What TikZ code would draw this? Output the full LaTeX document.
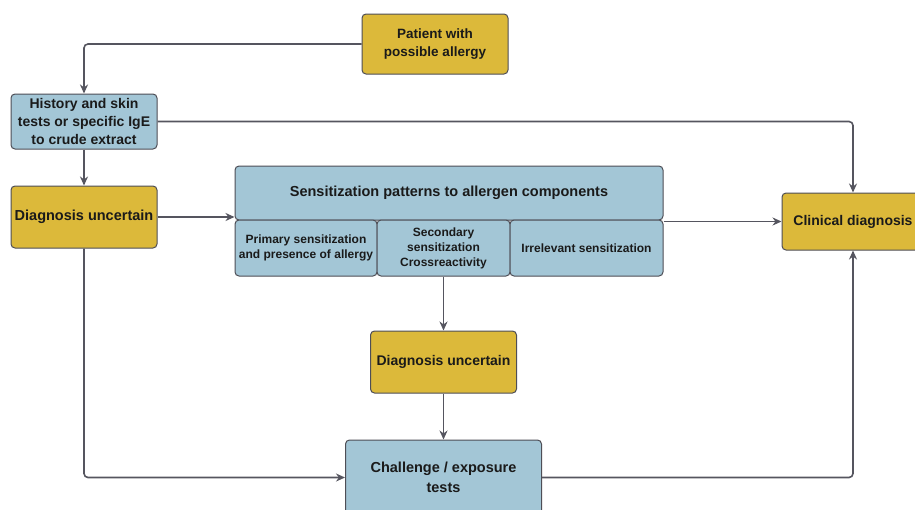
\documentclass[tikz,border=0pt]{standalone}
\usepackage{fontspec}
\setmainfont{Liberation Sans}
\usetikzlibrary{arrows.meta}
\definecolor{boxyellow}{HTML}{DCB93A}
\definecolor{boxblue}{HTML}{A3C6D6}
\definecolor{edgegray}{HTML}{4E4E56}
\definecolor{linegray}{HTML}{55555F}
\definecolor{txt}{HTML}{1A1A1A}
\tikzset{
  basebox/.style={draw=edgegray, line width=1pt, rounded corners=4pt, align=center,
    inner sep=1pt, text=txt, font=\bfseries\fontsize{14}{18}\selectfont},
  ybox/.style={basebox, fill=boxyellow},
  bbox/.style={basebox, fill=boxblue},
  subbox/.style={bbox, font=\bfseries\fontsize{12}{15}\selectfont},
  conn/.style={draw=linegray, line width=1.6pt, rounded corners=4pt,
    -{Stealth[length=9pt,width=8pt]}}
}
\begin{document}
\begin{tikzpicture}[x=1pt,y=-1pt]
\clip (0,0) rectangle (915,509);
\fill[white] (0,0) rectangle (915,509);
% nodes
\node[ybox, minimum width=146pt, minimum height=60pt, font=\bfseries\fontsize{13.5}{18}\selectfont] (patient) at (435,44) {Patient with\\possible allergy};
\node[bbox, minimum width=146pt, minimum height=55pt] (history) at (84,121.5) {History and skin\\tests or specific IgE\\to crude extract};
\node[ybox, minimum width=146pt, minimum height=62pt, font=\bfseries\fontsize{14.5}{18}\selectfont] (du1) at (84,217) {Diagnosis uncertain};
\node[bbox, minimum width=428pt, minimum height=54pt, font=\bfseries\fontsize{14.5}{18}\selectfont] (sens) at (449,193) {Sensitization patterns to allergen components};
\node[subbox, minimum width=142pt, minimum height=56pt] (prim) at (306,248) {Primary sensitization\\and presence of allergy};
\node[subbox, minimum width=133pt, minimum height=56pt] (sec) at (443.5,248) {Secondary\\sensitization\\Crossreactivity};
\node[subbox, minimum width=153pt, minimum height=56pt] (irr) at (586.5,248) {Irrelevant sensitization};
\node[ybox, minimum width=142pt, minimum height=57pt] (clin) at (853,221.5) {Clinical diagnosis};
\node[ybox, minimum width=146pt, minimum height=62pt] (du2) at (443.5,362) {Diagnosis uncertain};
\node[bbox, minimum width=196pt, minimum height=75pt, font=\bfseries\fontsize{14.5}{20}\selectfont] (chal) at (443.5,477.5) {Challenge / exposure\\tests};
% connectors
\draw[conn] (patient.west) -| (history.north);
\draw[conn] (history.south) -- (du1.north);
\draw[conn] (history.east) -| (clin.north);
\draw[conn] (du1.east) -- (du1.east -| sens.west);
\draw[conn] (clin.west -| sens.east) -- (clin.west);
\draw[conn] (sec.south) -- (du2.north);
\draw[conn] (du2.south) -- (chal.north);
\draw[conn] (du1.south) |- (chal.west);
\draw[conn] (chal.east) -| (clin.south);
\end{tikzpicture}
\end{document}
